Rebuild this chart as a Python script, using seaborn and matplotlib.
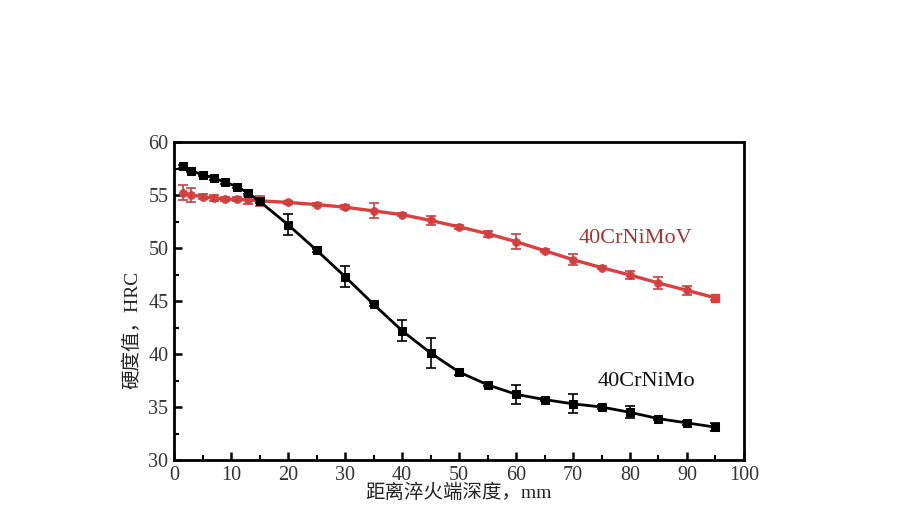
import numpy as np
import pandas as pd
import matplotlib
matplotlib.use("Agg")
import matplotlib.pyplot as plt
import seaborn as sns
from matplotlib.ticker import MultipleLocator

# ---- data ----
depth = [1.5, 3, 5, 7, 9, 11, 13, 15, 20, 25, 30, 35, 40, 45, 50, 55, 60, 65, 70, 75, 80, 85, 90, 95]
hrc_mo = [57.7, 57.3, 56.9, 56.6, 56.2, 55.8, 55.2, 54.4, 52.2, 49.8, 47.3, 44.7, 42.2, 40.1,
          38.3, 37.1, 36.2, 35.7, 35.3, 35.0, 34.5, 33.9, 33.5, 33.1]
err_mo = [0.15, 0.15, 0.15, 0.15, 0.15, 0.15, 0.15, 0.15, 1.0, 0.15, 1.0, 0.15, 1.0, 1.4,
          0.3, 0.15, 0.9, 0.15, 0.9, 0.15, 0.55, 0.15, 0.15, 0.4]
hrc_mov = [55.2, 55.0, 54.85, 54.7, 54.6, 54.6, 54.55, 54.45, 54.3, 54.1, 53.85, 53.5, 53.15,
           52.6, 52.0, 51.35, 50.6, 49.75, 48.9, 48.15, 47.45, 46.7, 46.0, 45.3]
err_mov = [0.7, 0.7, 0.2, 0.3, 0.2, 0.2, 0.4, 0.5, 0.15, 0.15, 0.2, 0.7, 0.15, 0.4, 0.2, 0.3,
           0.7, 0.15, 0.55, 0.15, 0.4, 0.6, 0.4, 0.2]
label_mo = "40CrNiMo"
label_mov = "40CrNiMoV"
xlabel = "距离淬火端深度，mm"
ylabel = "硬度值，HRC"

df = pd.DataFrame({"depth": depth, "mo": hrc_mo, "mov": hrc_mov})

sns.set_theme(style="white")
plt.rcParams["font.family"] = ["Liberation Serif", "Noto Sans CJK SC", "DejaVu Sans"]

fig = plt.figure(figsize=(8.98, 5.16), dpi=100)
ax = fig.add_axes([0.1938, 0.1085, 0.6347, 0.6163])

red = "#d9403f"
sns.lineplot(data=df, x="depth", y="mov", ax=ax, color=red, lw=2.4, marker="o",
             markersize=5.5, markeredgecolor=red, zorder=3)
ax.errorbar(depth, hrc_mov, yerr=err_mov, fmt="none", ecolor="#c84040", elinewidth=1.2,
            capsize=3.5, capthick=1.2, zorder=4)
sns.lineplot(data=df, x="depth", y="mo", ax=ax, color="black", lw=2.0, marker="s",
             markersize=5.2, markeredgecolor="black", zorder=5)
ax.errorbar(depth, hrc_mo, yerr=err_mo, fmt="none", ecolor="black", elinewidth=1.2,
            capsize=3.5, capthick=1.2, zorder=6)
# last red marker is a square
ax.plot([depth[-1]], [hrc_mov[-1]], marker="s", ms=5.5, color=red, zorder=4)

ax.set_xlim(0, 100)
ax.set_ylim(30, 60)
ax.xaxis.set_major_locator(MultipleLocator(10))
ax.xaxis.set_minor_locator(MultipleLocator(5))
ax.yaxis.set_major_locator(MultipleLocator(5))
ax.yaxis.set_minor_locator(MultipleLocator(2.5))
ax.tick_params(which="both", direction="in", top=False, right=False, bottom=True, left=True,
               labelsize=14.5, colors="black", pad=4)
ax.tick_params(which="major", length=6, width=1.8)
ax.tick_params(which="minor", length=3.5, width=1.5)
for lab in ax.get_xticklabels() + ax.get_yticklabels():
    lab.set_color("#333333")
for s in ax.spines.values():
    s.set_linewidth(2.0)
    s.set_color("black")

ax.set_xlabel(xlabel, fontsize=14, labelpad=-1, color="#222222")
ax.set_ylabel(ylabel, fontsize=14, color="#222222")
ax.yaxis.set_label_coords(-0.058, 0.41)

ax.text(81.0, 50.9, label_mov, fontsize=16, color="#a83232", ha="center", va="center")
ax.text(82.8, 37.45, label_mo, fontsize=16, color="#111111", ha="center", va="center")

fig.savefig("out.png", dpi=100, facecolor="white")
